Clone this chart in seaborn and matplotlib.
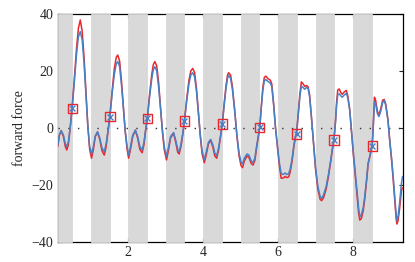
import matplotlib
matplotlib.use("Agg")
import matplotlib.pyplot as plt
import seaborn as sns

# time samples
t = [0.12, 0.16, 0.21, 0.27, 0.32, 0.36, 0.40, 0.45, 0.50, 0.56, 0.62, 0.67, 0.72, 0.77, 0.82, 0.87, 0.92, 0.97,
     1.02, 1.07, 1.12, 1.18, 1.24, 1.30, 1.36, 1.41, 1.46, 1.51, 1.57, 1.63, 1.68, 1.72, 1.77, 1.82, 1.87, 1.92, 1.97,
     2.01, 2.06, 2.12, 2.19, 2.25, 2.31, 2.37, 2.42, 2.46, 2.51, 2.57, 2.63, 2.67, 2.71, 2.76, 2.81, 2.86, 2.91, 2.96,
     3.02, 3.07, 3.13, 3.21, 3.27, 3.32, 3.36, 3.41, 3.46, 3.50, 3.56, 3.62, 3.67, 3.72, 3.77, 3.82, 3.87, 3.92, 3.97,
     4.03, 4.08, 4.14, 4.20, 4.26, 4.31, 4.36, 4.41, 4.46, 4.51, 4.56, 4.61, 4.65, 4.68, 4.73, 4.78, 4.84, 4.90, 4.96,
     5.01, 5.05, 5.10, 5.17, 5.22, 5.28, 5.33, 5.38, 5.43, 5.48, 5.51, 5.55, 5.59, 5.63, 5.67, 5.73, 5.79, 5.83, 5.88,
     5.93, 5.98, 6.03, 6.08, 6.13, 6.19, 6.23, 6.28, 6.32, 6.37, 6.42, 6.47, 6.49, 6.54, 6.58, 6.62, 6.66, 6.71, 6.76,
     6.80, 6.84, 6.90, 6.95, 7.00, 7.06, 7.12, 7.16, 7.21, 7.28, 7.34, 7.40, 7.45, 7.49, 7.53, 7.56, 7.59, 7.63, 7.67,
     7.71, 7.76, 7.82, 7.86, 7.91, 7.96, 8.01, 8.06, 8.11, 8.15, 8.18, 8.22, 8.27, 8.31, 8.36, 8.40, 8.47, 8.51, 8.54,
     8.57, 8.60, 8.65, 8.69, 8.74, 8.79, 8.83, 8.87, 8.93, 8.98, 9.03, 9.07, 9.11, 9.15, 9.17, 9.20, 9.24, 9.29, 9.32]

force_blue = [-6.0, -2.5, -0.9, -2.5, -5.5, -6.5, -5.0, 0.0, 6.5, 16, 26, 32, 33.8, 31, 23, 12, 1, -6.5,
              -9.1, -6.5, -2.8, -1.3, -3.5, -7.0, -8.3, -5.5, -1.0, 4.0, 12, 19, 22.5, 23.3, 21.5, 15, 7, -1, -6.5,
              -9.5, -6.5, -2.5, -0.7, -3, -6.5, -7.7, -5, -1, 3.4, 11, 17.5, 20.5, 21.5, 20, 14.5, 7, -0.5, -6.5,
              -10, -7, -3, -1.6, -4.5, -7.5, -8.3, -5.5, -1.5, 2.5, 9.5, 15.5, 18.6, 19.4, 18, 13, 5.5, -2, -8,
              -11.2, -8.5, -5, -4.0, -6, -8.8, -9.7, -7, -3, 1.4, 8, 14, 17.5, 18.4, 17.5, 13.5, 6, -2.5, -9,
              -12, -12.6, -10.5, -9.1, -9.5, -11.5, -12.2, -10.5, -6, -2, 0.2, 7, 13, 16.5, 17, 16.3, 15.8, 14.5, 8,
              0, -6, -12, -15.9, -16.3, -15.8, -16.3, -16.0, -14.5, -11, -6, -2.5, -2.1, 5, 11, 14.7, 14.3, 13.6, 14.3,
              13.8, 11, 2, -6, -14, -20.5, -24, -24.7, -23.5, -20.6, -16.5, -11.5, -7, -4.2, 2, 8, 11.6, 12, 11.3,
              10.8, 11.5, 12.2, 10.5, 6.3, -1.5, -9, -16, -23, -28.5, -31.1, -30.5, -28, -24.1, -18, -12.4, -8.5, -6.3, 1,
              9.2, 8.5, 5, 4.0, 6, 9, 9.6, 8, 2.8, -4.5, -11, -17.1, -24, -30.5, -32.5, -31, -26.5, -19.4, -17]

force_red = [-6.5, -2.7, -1.0, -3.0, -6.5, -7.7, -6.0, 0.0, 6.8, 17, 28, 35, 37.9, 34, 25, 13, 1, -7.5,
             -10.6, -7.5, -3, -1.5, -4, -8, -9.5, -6.5, -1.2, 4.2, 13, 21, 24.8, 25.6, 23.5, 16.5, 7.5, -1.5, -7.5,
             -10.6, -7.5, -3, -0.8, -3.5, -7.5, -8.7, -5.8, -1.2, 3.5, 12, 19, 22.3, 23.3, 21.8, 16, 7.5, -1, -7.5,
             -11.2, -8, -3.5, -1.8, -5.2, -8.5, -9.1, -6.2, -1.8, 2.6, 10.2, 16.8, 20, 20.9, 19.5, 14, 6, -2.5, -9,
             -12.2, -9.5, -5.6, -4.3, -6.8, -9.8, -10.6, -7.8, -3.3, 1.5, 8.6, 15, 18.6, 19.4, 18.6, 14.5, 6.5, -3, -10,
             -13.2, -13.9, -11.5, -9.8, -10.3, -12.4, -13, -11.3, -6.5, -2.2, 0.2, 7.5, 14, 17.7, 18.2, 17.3, 16.8, 15.5, 8.5,
             0, -6.5, -13, -17.6, -17.6, -17, -17.4, -17.2, -15.5, -11.8, -6.4, -2.7, -2.1, 5.5, 12, 16.2, 15.6, 14.6, 14.9,
             14.4, 11.6, 2, -6.5, -14.8, -21.5, -25, -25.5, -24.5, -21.5, -17.2, -12, -7.3, -4.2, 2.3, 9, 13.3, 13.7, 12.5,
             11.8, 12.6, 13.2, 11.2, 6.5, -1.8, -9.8, -17, -24.3, -30, -32.3, -31.8, -29, -25, -18.6, -12.8, -8.7, -6.3, 1.3,
             10.8, 9.8, 5.8, 4.6, 6.8, 9.8, 10.0, 8.5, 3, -4.8, -11.6, -18, -25.2, -32, -33.7, -32.5, -28.5, -22, -21]

marker_t = [0.51, 1.51, 2.51, 3.50, 4.51, 5.51, 6.49, 7.49, 8.51]
marker_f = [6.9, 4.0, 3.4, 2.5, 1.4, 0.2, -2.1, -4.2, -6.3]

band_starts = [0, 1, 2, 3, 4, 5, 6, 7, 8]
band_width = 0.5

sns.set_style("ticks")
plt.rcParams['font.family'] = ['Liberation Serif', 'DejaVu Serif']
plt.rcParams['axes.unicode_minus'] = True

fig = plt.figure(figsize=(4.15, 2.62), dpi=100)
ax = fig.add_axes([0.139, 0.0763, 0.831, 0.8703])

red = '#e8282c'
blue = '#4a80c4'
xmin, xmax = 0.117, 9.32

# gray bands drawn over the frame, like the original
for s in band_starts:
    ax.axvspan(max(s, xmin), s + band_width, facecolor='#d9d9d9', edgecolor='#d9d9d9',
               lw=0.6, zorder=3, clip_on=False)

ax.axhline(0, color='#333333', lw=1.0, ls=(0, (1, 6)), zorder=3.5)

sns.lineplot(x=t, y=force_red, ax=ax, color=red, lw=1.1, sort=False, zorder=4)
sns.lineplot(x=t, y=force_blue, ax=ax, color=blue, lw=1.1, sort=False, zorder=4.5)

ax.scatter(marker_t, marker_f, marker='s', s=45, facecolors='none', edgecolors=red, linewidths=1.0, zorder=5)
ax.scatter(marker_t, marker_f, marker='x', s=18, color=blue, linewidths=1.0, zorder=5.5)

ax.set_xlim(xmin, xmax)
ax.set_ylim(-40, 40)
ax.set_xticks([2, 4, 6, 8])
ax.set_yticks([-40, -20, 0, 20, 40])
ax.tick_params(direction='in', top=True, right=True, labelsize=10, length=3, width=0.8, pad=3)
for sp in ax.spines.values():
    sp.set_linewidth(0.9)
    sp.set_color('black')
    sp.set_zorder(1)
ax.set_ylabel('forward force', fontsize=10, labelpad=4)
ax.set_xlabel('')

fig.savefig('out.png', dpi=100)
